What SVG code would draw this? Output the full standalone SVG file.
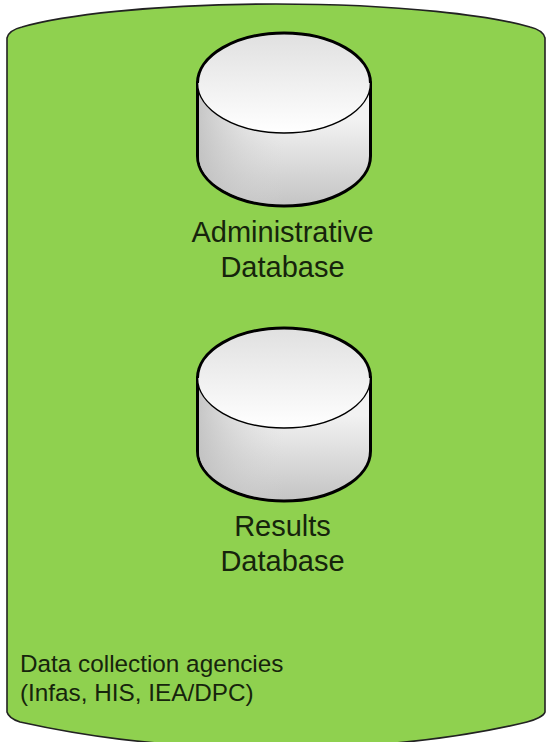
<svg xmlns="http://www.w3.org/2000/svg" width="546" height="742" viewBox="0 0 546 742">
<style>
.outer{fill:#8fd14f;stroke:#222;stroke-width:1.6}
.side{fill:url(#sideV);stroke:#000;stroke-width:3}
.sideShade{fill:url(#sideH)}
.top{fill:url(#topG);stroke:#000;stroke-width:1.5}
.rim{fill:none;stroke:#000;stroke-width:3}
text{font-family:"Liberation Sans",Arial,sans-serif;fill:#16240c}
.big{font-size:29px;text-anchor:middle}
.small{font-size:24.300px}
</style>
<defs>
<linearGradient id="sideV" x1="0" y1="0" x2="0" y2="1"><stop offset="0.3" stop-color="#f2f2f2"/><stop offset="1" stop-color="#c4c4c4"/></linearGradient>
<linearGradient id="sideH" x1="0" y1="0" x2="1" y2="0"><stop offset="0" stop-color="#bcbcbc" stop-opacity="0.8"/><stop offset="0.5" stop-color="#d8d8d8" stop-opacity="0"/></linearGradient>
<linearGradient id="topG" x1="0" y1="0" x2="0" y2="1"><stop offset="0" stop-color="#e0e0e0"/><stop offset="1" stop-color="#ffffff"/></linearGradient>
<g id="db">
<path class="side" d="M197.500 83V156A86.500 50 0 0 0 370.500 156V83Z"/>
<path class="sideShade" d="M199 83V156A85 48.500 0 0 0 369 156V83Z"/>
<ellipse class="top" cx="284" cy="83" rx="86.500" ry="50"/>
<path class="rim" d="M197.500 83A86.500 50 0 0 1 370.500 83"/>
</g>
</defs>
<g id="agencies">
<path class="outer" d="M7 38C8 33 14 29 22 27C60 16 150 4 276 4S492 16 530 27C538 29 544 33 545 38V712C544 716 535 720 527 722C482 733 402 748 276 748S70 733 20 722C14 720 8 716 7 712Z"/>
<text class="small" x="20" y="672">Data collection agencies</text>
<text class="small" x="20" y="701">(Infas, HIS, IEA/DPC)</text>
</g>
<g id="admin-db">
<use href="#db"/>
<text class="big" x="282.500" y="242">Administrative</text>
<text class="big" x="282.500" y="277">Database</text>
</g>
<g id="results-db">
<use href="#db" y="295"/>
<text class="big" x="282.500" y="536">Results</text>
<text class="big" x="282.500" y="571">Database</text>
</g>
<g id="connectors"/>
</svg>
